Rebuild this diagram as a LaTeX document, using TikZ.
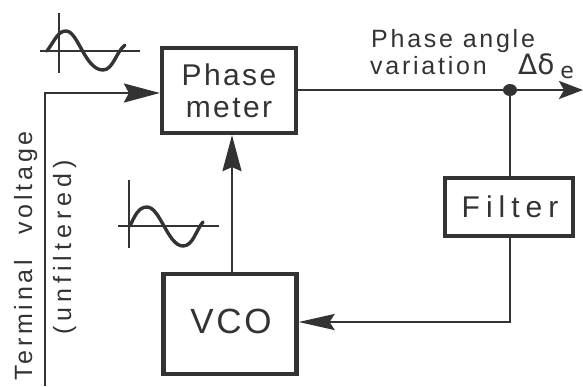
\documentclass[tikz,border=0pt]{standalone}
\usepackage{fontspec}
\setmainfont{Liberation Sans}
\newfontfamily\djfont{DejaVu Sans}
\newfontfamily\wideA[LetterSpace=8]{Liberation Sans}
\newfontfamily\wideB[LetterSpace=11]{Liberation Sans}
\newfontfamily\wideC[LetterSpace=15]{Liberation Sans}
\newfontfamily\wideD[LetterSpace=20]{Liberation Sans}
\usetikzlibrary{arrows.meta}
\definecolor{ink}{gray}{0.2}
\tikzset{
  x=1pt,y=-1pt,
  blockbox/.style={draw=ink,line width=4.2pt,fill=white,inner sep=0pt,text=ink},
  sig/.style={draw=ink,line width=2.4pt},
  lbl/.style={text=ink,inner sep=0pt},
  wave/.style={draw=ink,line width=3.4pt,line cap=round},
  axisline/.style={draw=ink,line width=1.2pt}
}
\begin{document}
\begin{tikzpicture}
\useasboundingbox (0,0) rectangle (583,386);
% blocks
\node[blockbox,minimum width=134pt,minimum height=85pt] (pm) at (229,90.5) {};
\node[lbl,font=\wideA\fontsize{30}{35}\selectfont,align=center] (pmt) at (229,91) {Phase\\[-3pt]meter};
\node[blockbox,minimum width=133pt,minimum height=100pt] (vco) at (230,324) {};
\node[lbl,font=\wideA\fontsize{35}{38}\selectfont] (vcot) at (231,321) {VCO};
\node[blockbox,minimum width=128pt,minimum height=58pt] (flt) at (509,207) {};
\node[lbl,font=\wideD\fontsize{30}{34}\selectfont] (fltt) at (510,207) {Filter};
% connectors
\coordinate (start) at (45,386);
\coordinate (corner) at (45,93);
\coordinate (out) at (583,90);
\coordinate (dot) at (510,90);
\coordinate (bend) at (510,322);
\coordinate (vx) at (232,200);
\draw[sig,-{Stealth[length=36pt,width=19pt,inset=5pt]}] (start) -- (corner) -- (pm.west |- corner);
\draw[sig,-{Stealth[length=36pt,width=19pt,inset=4pt]}] (vco.north -| vx) -- (pm.south -| vx);
\draw[sig,-{Stealth[length=24pt,width=18pt,inset=5pt]}] (pm.east |- out) -- (out);
\draw[sig] (dot) -- (flt.north -| dot);
\draw[sig,-{Stealth[length=36pt,width=16pt,inset=5pt]}] (flt.south -| bend) -- (bend) -- (vco.east |- bend);
\fill[ink] (dot) ellipse (7pt and 6pt);
% labels
\node[lbl,rotate=90,anchor=base west,font=\wideC\fontsize{25}{28}\selectfont] (tv) at (32,381) {Terminal\hspace{15pt} voltage};
\node[lbl,rotate=90,anchor=base west,font=\wideD\fontsize{25}{28}\selectfont] (uf) at (71,335) {(unfiltered)};
\node[lbl,anchor=base west,font=\wideB\fontsize{25}{28}\selectfont] (pa) at (371,47) {Phase\hspace{0pt} angle};
\node[lbl,anchor=base west,font=\wideB\fontsize{25}{28}\selectfont] (va) at (370,74) {variation};
\node[lbl,anchor=base west,font=\djfont\fontsize{28}{30}\selectfont] (de) at (518,74) {Δδ\hspace{6pt}\raisebox{-4pt}{\fontsize{22}{24}\selectfont e}};
% waves
\draw[axisline] (59,13) -- (59,73);
\draw[axisline] (40,51) -- (140,51);
\draw[wave] (47,51) .. controls (55,40) and (58,31) .. (66,31) .. controls (78,31) and (85,70) .. (103,70) .. controls (113,70) and (116,52) .. (125,45);
\draw[axisline] (129,180) -- (129,248);
\draw[axisline] (118,226) -- (219,226);
\draw[wave] (130,226) .. controls (135,215) and (139,207) .. (147,207) .. controls (160,207) and (168,246) .. (183,246) .. controls (193,246) and (196,230) .. (203,222);
\end{tikzpicture}
\end{document}
